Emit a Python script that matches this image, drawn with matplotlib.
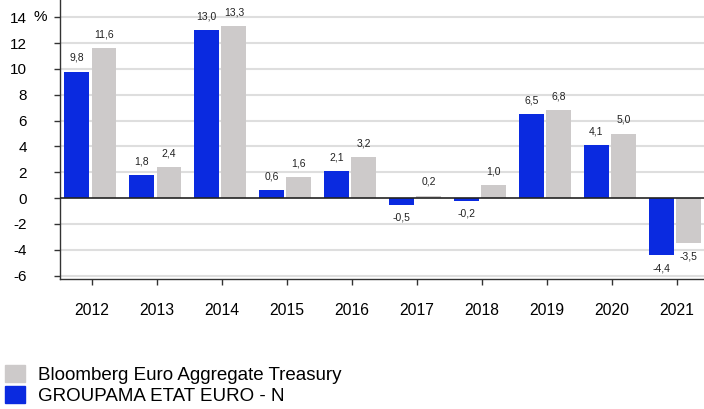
import matplotlib
matplotlib.use("Agg")
import matplotlib.pyplot as plt
import numpy as np
from matplotlib.patches import Patch

years = ["2012", "2013", "2014", "2015", "2016", "2017", "2018", "2019", "2020", "2021"]
fund = [9.8, 1.8, 13.0, 0.6, 2.1, -0.5, -0.2, 6.5, 4.1, -4.4]
bench = [11.6, 2.4, 13.3, 1.6, 3.2, 0.2, 1.0, 6.8, 5.0, -3.5]
fund_name = "GROUPAMA ETAT EURO - N"
bench_name = "Bloomberg Euro Aggregate Treasury"
yticks = [-6, -4, -2, 0, 2, 4, 6, 8, 10, 12, 14]

plt.rcParams['font.family'] = ['Liberation Sans', 'DejaVu Sans']

BLUE = "#0a2ae0"
GRAY = "#cdcaca"

fig = plt.figure(figsize=(7.04, 4.09), dpi=100)
ax = fig.add_axes([60/704, 1 - 279/409, 1 - 60/704, 279/409])

x = np.arange(len(years))
w = 0.38
ax.bar(x - 0.238, fund, width=w, color=BLUE, zorder=3)
ax.bar(x + 0.185, bench, width=w, color=GRAY, zorder=3)

def fmt(v):
    return f"{v:.1f}".replace(".", ",")

for xs, vals in ((x - 0.238, fund), (x + 0.185, bench)):
    for xi, v in zip(xs, vals):
        off = 9.8 if v >= 0 else -9.4
        ax.annotate(fmt(v), (xi, v), xytext=(0, off), textcoords="offset points",
                    ha="center", va="center", fontsize=7.5, color="#222222")

ax.set_xlim(-0.49, 9.42)
ax.set_ylim(-6.26, 15.34)
ax.set_yticks(yticks)
ax.set_yticklabels([str(t) for t in yticks])
ax.set_xticks(x)
ax.set_xticklabels(years)
for t in yticks:
    if t != 0:
        ax.axhline(t, color="#dedede", lw=1.5, zorder=1)
ax.axhline(0, color="#222222", lw=1.2, zorder=4)

for s in ("top", "right"):
    ax.spines[s].set_visible(False)
for s in ("left", "bottom"):
    ax.spines[s].set_color("#333333")
    ax.spines[s].set_linewidth(1.0)

ax.tick_params(axis="y", length=4, width=1, color="#333333", pad=20, labelsize=11)
ax.tick_params(axis="x", length=4, width=1, color="#333333", pad=13.5, labelsize=11.3)

ax.text(-0.03, 14, "%", transform=ax.get_yaxis_transform(), ha="center", va="center", fontsize=11)

handles = [Patch(color=GRAY), Patch(color=BLUE)]
fig.legend(handles, [bench_name, fund_name], loc="lower left",
           bbox_to_anchor=(5/704, 1 - 405/409), frameon=False, fontsize=13.5,
           handlelength=1.06, handleheight=1.0, handletextpad=0.68,
           labelspacing=0.12, borderpad=0, borderaxespad=0)

fig.savefig("out.png", dpi=100)
